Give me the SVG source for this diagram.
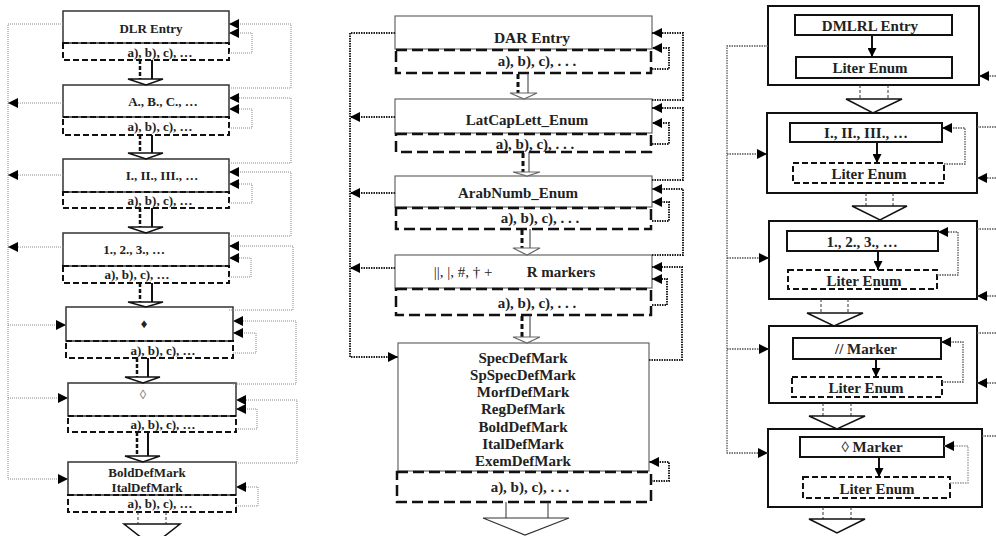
<svg xmlns="http://www.w3.org/2000/svg" width="996" height="536" viewBox="0 0 996 536">
<defs>
<style>
.lbox{fill:#fff;stroke:#333;stroke-width:1.5}
.ldash{fill:none;stroke:#111;stroke-width:2;stroke-dasharray:6,3}
.ldot{fill:none;stroke:#888;stroke-width:1;stroke-dasharray:1,1}
.mbox{fill:#fff;stroke:#666;stroke-width:1.2}
.mdash{fill:none;stroke:#111;stroke-width:2.5;stroke-dasharray:11,5}
.mdot{fill:none;stroke:#222;stroke-width:2;stroke-dasharray:1.5,1}
.rbox{fill:#fff;stroke:#111;stroke-width:2}
.rin{fill:#fff;stroke:#111;stroke-width:2}
.rdash{fill:none;stroke:#111;stroke-width:2;stroke-dasharray:6,3}
.rdot{fill:none;stroke:#555;stroke-width:1.3;stroke-dasharray:1.5,1}
.tri{fill:#fff;stroke:#111;stroke-width:1.5}
.mtri{fill:#fff;stroke:#666;stroke-width:1.2}
.thk{fill:none;stroke:#111;stroke-width:2.5;stroke-dasharray:4,2}
.sol{fill:none;stroke:#111;stroke-width:2}
.thin{fill:none;stroke:#333;stroke-width:1}
.tdash{fill:none;stroke:#333;stroke-width:1;stroke-dasharray:3,2}
.arr{fill:none;stroke:#111;stroke-width:2}
text{font-family:"Liberation Serif","Times New Roman",serif;font-weight:bold;fill:#222;text-anchor:middle}
.l{font-size:13px}
.m{font-size:15px}
.r{font-size:15px}
</style>
<marker id="ah" markerUnits="userSpaceOnUse" markerWidth="10" markerHeight="10" refX="10" refY="5" orient="auto">
<path d="M0,0 L10,5 L0,10 z" fill="#000"/>
</marker>
<marker id="ahs" markerUnits="userSpaceOnUse" markerWidth="9" markerHeight="9" refX="9" refY="4.5" orient="auto">
<path d="M0,0 L9,4.5 L0,9 z" fill="#000"/>
</marker>
</defs>
<rect width="996" height="536" fill="#fff"/>

<!-- LEFT COLUMN -->
<g id="dlr-entry"><rect class="lbox" x="63" y="11" width="166" height="32"/><text class="l" x="151" y="33">DLR Entry</text>
<rect class="ldash" x="63" y="43" width="166" height="17"/><text class="l" x="160" y="57">a), b), c), …</text></g>
<g id="lat-cap"><rect class="lbox" x="63" y="85" width="166" height="32"/><text class="l" x="163" y="106">A., B., C., …</text>
<rect class="ldash" x="63" y="117" width="166" height="18"/><text class="l" x="160" y="131">a), b), c), …</text></g>
<g id="roman"><rect class="lbox" x="63" y="159" width="166" height="33"/><text class="l" x="162" y="180">I., II., III.,  …</text>
<rect class="ldash" x="63" y="192" width="166" height="16"/><text class="l" x="160" y="205">a), b), c), …</text></g>
<g id="arab"><rect class="lbox" x="63" y="233" width="166" height="33"/><text class="l" x="134" y="254">1., 2., 3., …</text>
<rect class="ldash" x="63" y="266" width="166" height="17"/><text class="l" x="137" y="279">a), b), c), …</text></g>
<g id="black-diamond"><rect class="lbox" x="66" y="307" width="167" height="34"/><text class="l" x="144" y="328">♦</text>
<rect class="ldash" x="66" y="341" width="167" height="17"/><text class="l" x="163" y="355">a), b), c), …</text></g>
<g id="white-diamond"><rect class="lbox" x="68" y="383" width="168" height="33"/><text class="l" x="143" y="399" style="font-weight:normal;fill:#777">◊</text>
<rect class="ldash" x="68" y="416" width="168" height="16"/><text class="l" x="163" y="429">a), b), c), …</text></g>
<g id="def-marks-left"><rect class="lbox" x="68" y="462" width="168" height="33"/><text class="l" x="147" y="477">BoldDefMark</text><text class="l" x="147" y="492">ItalDefMark</text>
<rect class="ldash" x="68" y="495" width="168" height="17"/><text class="l" x="160" y="508">a), b), c), …</text></g>

<!-- MIDDLE COLUMN -->
<g id="dar-entry"><rect class="mbox" x="395" y="16" width="257" height="33"/><text class="m" x="532" y="43" style="font-size:15.5px">DAR Entry</text>
<rect class="mdash" x="396" y="50" width="255" height="23"/><text class="m" x="537" y="66">a), b), c), . . .</text></g>
<g id="latcaplett"><rect class="mbox" x="395" y="99" width="257" height="34"/><text class="m" x="527" y="125">LatCapLett_Enum</text>
<rect class="mdash" x="396" y="134" width="255" height="18"/><text class="m" x="535" y="149">a), b), c), . . .</text></g>
<g id="arabnumb"><rect class="mbox" x="395" y="176" width="257" height="31"/><text class="m" x="518" y="198">ArabNumb_Enum</text>
<rect class="mdash" x="396" y="208" width="255" height="21"/><text class="m" x="540" y="223">a), b), c), . . .</text></g>
<g id="r-markers"><rect class="mbox" x="395" y="255" width="257" height="33"/><text class="m" x="463" y="277" style="font-weight:normal">||, |, #, † +</text><text class="m" x="561" y="277">R markers</text>
<rect class="mdash" x="396" y="289" width="255" height="26"/><text class="m" x="537" y="308">a), b), c), . . .</text></g>
<g id="def-marks-mid"><rect class="mbox" x="398" y="343" width="251" height="128"/>
<text class="m" x="523" y="363">SpecDefMark</text><text class="m" x="523" y="380">SpSpecDefMark</text><text class="m" x="523" y="397">MorfDefMark</text><text class="m" x="523" y="414">RegDefMark</text><text class="m" x="523" y="432">BoldDefMark</text><text class="m" x="523" y="449">ItalDefMark</text><text class="m" x="523" y="466">ExemDefMark</text>
<rect class="mdash" x="397" y="472" width="254" height="30"/><text class="m" x="530" y="492">a), b), c), . . .</text></g>

<!-- RIGHT COLUMN -->
<g id="dmlrl-entry"><rect class="rbox" x="768" y="6" width="211" height="79"/>
<rect class="rin" x="795" y="15" width="157" height="20"/><text class="r" x="870" y="31">DMLRL Entry</text>
<rect class="rin" x="796" y="57" width="156" height="21"/><text class="r" x="870" y="73">Liter Enum</text>
<path class="arr" d="M872,35 V57" marker-end="url(#ahs)"/></g>
<g id="roman-r"><rect class="rbox" x="767" y="113" width="210" height="80"/>
<rect class="rin" x="790" y="123" width="152" height="19"/><text class="r" x="866" y="138">I., II., III., …</text>
<rect class="rdash" x="793" y="163" width="151" height="20"/><text class="r" x="869" y="179">Liter Enum</text>
<path class="arr" d="M877,142 V163" marker-end="url(#ahs)"/></g>
<g id="arab-r"><rect class="rbox" x="769" y="221" width="208" height="78"/>
<rect class="rin" x="787" y="231" width="151" height="20"/><text class="r" x="862" y="247">1., 2., 3., …</text>
<rect class="rdash" x="788" y="270" width="149" height="19"/><text class="r" x="864" y="286">Liter Enum</text>
<path class="arr" d="M878,251 V270" marker-end="url(#ahs)"/></g>
<g id="slash-marker"><rect class="rbox" x="769" y="326" width="208" height="77"/>
<rect class="rin" x="793" y="338" width="148" height="21"/><text class="r" x="866" y="354">//  Marker</text>
<rect class="rdash" x="792" y="377" width="150" height="20"/><text class="r" x="866" y="393">Liter Enum</text>
<path class="arr" d="M876,359 V377" marker-end="url(#ahs)"/></g>
<g id="lozenge-marker"><rect class="rbox" x="768" y="429" width="214" height="78"/>
<rect class="rin" x="800" y="437" width="144" height="20"/><text class="r" x="872" y="452">◊  Marker</text>
<rect class="rdash" x="803" y="477" width="147" height="21"/><text class="r" x="877" y="494">Liter Enum</text>
<path class="arr" d="M879,457 V477" marker-end="url(#ahs)"/></g>

<g id="connectors">
<!-- left column flow -->
<path class="thk" d="M140,60 V79 M140,135 V153 M140,208 V227 M140,283 V302 M137,358 V377 M137,432 V456"/>
<path class="sol" d="M152,60 V79 M152,135 V153 M152,208 V227 M152,283 V302 M148,358 V377 M148,432 V456"/>
<path class="tri" d="M128,79 H163 L146,85 Z"/>
<path class="tri" d="M128,153 H163 L146,159 Z"/>
<path class="tri" d="M128,227 H163 L146,233 Z"/>
<path class="tri" d="M128,302 H163 L146,307 Z"/>
<path class="tri" d="M125,377 H160 L143,383 Z"/>
<path class="tri" d="M125,456 H160 L143,462 Z"/>
<path class="tdash" d="M138,512 V524 M166,512 V524"/>
<path class="tri" d="M124,524 H180 L152,546 Z"/>
<!-- left column loops -->
<path class="ldot" d="M63,24 H8 V479 H68" marker-end="url(#ah)"/>
<path class="ldot" d="M63,103 H8" marker-end="url(#ah)"/>
<path class="ldot" d="M63,175 H8" marker-end="url(#ah)"/>
<path class="ldot" d="M63,247 H8" marker-end="url(#ah)"/>
<path class="ldot" d="M8,325 H66" marker-end="url(#ah)"/>
<path class="ldot" d="M8,398 H68" marker-end="url(#ah)"/>
<path class="ldot" d="M229,88 H291 V24 H229" marker-end="url(#ah)"/>
<path class="ldot" d="M229,163 H291 V98 H229" marker-end="url(#ah)"/>
<path class="ldot" d="M229,236 H291 V172 H229" marker-end="url(#ah)"/>
<path class="ldot" d="M229,310 H293 V246 H229" marker-end="url(#ah)"/>
<path class="ldot" d="M233,384 H296 V321 H233" marker-end="url(#ah)"/>
<path class="ldot" d="M236,463 H297 V400 H236" marker-end="url(#ah)"/>
<path class="ldot" d="M229,53 H252 V33 H229" marker-end="url(#ah)"/>
<path class="ldot" d="M229,128 H252 V109 H229" marker-end="url(#ah)"/>
<path class="ldot" d="M229,203 H252 V184 H229" marker-end="url(#ah)"/>
<path class="ldot" d="M229,277 H251 V258 H229" marker-end="url(#ah)"/>
<path class="ldot" d="M233,353 H256 V333 H233" marker-end="url(#ah)"/>
<path class="ldot" d="M236,429 H257 V409 H236" marker-end="url(#ah)"/>
<path class="ldot" d="M236,506 H258 V487 H236" marker-end="url(#ah)"/>

<!-- middle column flow -->
<path class="thk" d="M518,74 V93 M523,153 V172 M522,230 V248 M522,316 V337" style="stroke-width:3;stroke-dasharray:5,3"/>
<path class="thin" d="M528,73 V93 M529,152 V172 M530,229 V248 M530,315 V337"/>
<path class="mtri" d="M510,93 H537 L524,99 Z"/>
<path class="mtri" d="M513,172 H540 L527,176 Z"/>
<path class="mtri" d="M513,248 H540 L527,255 Z"/>
<path class="mtri" d="M513,337 H540 L527,343 Z"/>
<path class="thin" d="M506,502 V518 M548,502 V518"/>
<path class="tri" d="M483,518 H569 L525,535 Z" style="stroke:#333;stroke-width:1.2"/>
<!-- middle loops -->
<path class="mdot" d="M395,33 H350 V357 H398" marker-end="url(#ah)"/>
<path class="mdot" d="M395,117 H350" marker-end="url(#ah)"/>
<path class="mdot" d="M395,193 H350" marker-end="url(#ah)"/>
<path class="mdot" d="M395,268 H350" marker-end="url(#ah)"/>
<path class="mdot" d="M652,100 H683 V33 H652" marker-end="url(#ah)"/>
<path class="mdot" d="M652,180 H683 V108 H652" marker-end="url(#ah)"/>
<path class="mdot" d="M652,255 H683 V189 H652" marker-end="url(#ah)"/>
<path class="mdot" d="M649,360 H682 V267 H652" marker-end="url(#ah)"/>
<path class="mdot" d="M652,69 H669 V48 H652" marker-end="url(#ah)"/>
<path class="mdot" d="M652,144 H669 V123 H652" marker-end="url(#ah)"/>
<path class="mdot" d="M652,221 H669 V202 H652" marker-end="url(#ah)"/>
<path class="mdot" d="M652,305 H667 V279 H652" marker-end="url(#ah)"/>
<path class="mdot" d="M651,481 H669 V462 H649" marker-end="url(#ah)"/>

<!-- right column flow -->
<path class="tdash" d="M860,85 V99 M888,85 V99 M866,193 V206 M893,193 V206 M821,299 V313 M848,299 V313 M823,403 V416 M851,403 V416 M823,507 V519 M851,507 V519"/>
<path class="tri" d="M846,99 H902 L873,113 Z"/>
<path class="tri" d="M852,206 H907 L880,220 Z"/>
<path class="tri" d="M807,313 H863 L834,326 Z"/>
<path class="tri" d="M809,416 H865 L837,429 Z"/>
<path class="tri" d="M809,519 H865 L837,533 Z"/>
<!-- right loops -->
<path class="rdot" d="M768,46 H727 V453 H768" marker-end="url(#ah)"/>
<path class="rdot" d="M727,154 H767" marker-end="url(#ah)"/>
<path class="rdot" d="M727,258 H769" marker-end="url(#ah)"/>
<path class="rdot" d="M727,349 H769" marker-end="url(#ah)"/>
<path class="rdot" d="M944,164 H965 V128 H942" marker-end="url(#ah)"/>
<path class="rdot" d="M937,275 H958 V232 H938" marker-end="url(#ah)"/>
<path class="rdot" d="M942,382 H963 V342 H941" marker-end="url(#ah)"/>
<path class="rdot" d="M950,483 H968 V446 H944" marker-end="url(#ah)" style="stroke:#999"/>
<path class="rdot" d="M996,76 H979" marker-end="url(#ah)"/>
<path class="rdot" d="M996,178 H977" marker-end="url(#ah)"/>
<path class="rdot" d="M996,296 H977" marker-end="url(#ah)"/>
<path class="rdot" d="M996,383 H977" marker-end="url(#ah)"/>
<path class="rdot" d="M977,127 H996 M977,229 H996 M977,333 H996 M982,436 H996"/>
</g>
</svg>
